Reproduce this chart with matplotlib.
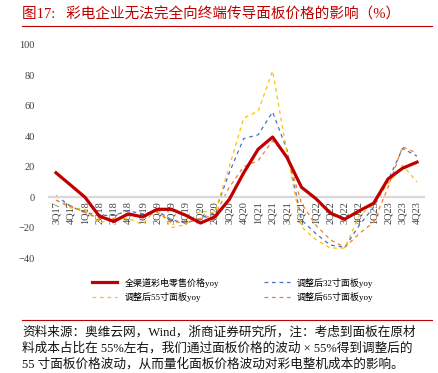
import matplotlib
matplotlib.use("Agg")
import matplotlib.pyplot as plt
from matplotlib.lines import Line2D

plt.rcParams['font.family'] = ['Liberation Serif', 'Noto Sans CJK SC']

quarters = ["3Q17", "4Q17", "1Q18", "2Q18", "3Q18", "4Q18", "1Q19", "2Q19", "3Q19",
            "4Q19", "1Q20", "2Q20", "3Q20", "4Q20", "1Q21", "2Q21", "3Q21", "4Q21",
            "1Q22", "2Q22", "3Q22", "4Q22", "1Q23", "2Q23", "3Q23", "4Q23"]

retail = [16, 8, 0, -12.5, -16, -11, -13, -8, -8, -12, -17, -13, -1.5, 16, 31.5, 39.5,
          26, 6.5, -1, -10.5, -14.5, -9, -4, 12, 19, 23]
panel32 = [1, -6, -10, -12, -12, -9, -11, -9, -15, -17, -14, -10, 16, 38.5, 41, 56,
           31, -15, -24, -31.5, -33, -18.5, -6.5, 11, 32, 27]
panel55 = [-2, -7, -8, -17, -14, -14, -18, -7, -20, -18, -9, -10.5, 20, 52, 56.5, 83,
           29, -19.5, -28, -33.5, -33.5, -12, -5, 9, 21, 10]
panel65 = [-2, -6, -10, -14, -14, -12, -13, -10, -16, -17, -14, -12, 6.5, 20, 24, 37,
           27.5, -4, -18.5, -28, -33, -24, -16.5, 6.5, 33, 29]

labels = ["全渠道彩电零售价格yoy", "调整后32寸面板yoy", "调整后55寸面板yoy", "调整后65寸面板yoy"]
title = "图17:   彩电企业无法完全向终端传导面板价格的影响（%）"
note = ["资料来源：奥维云网，Wind，浙商证券研究所，注：考虑到面板在原材",
        "料成本占比在 55%左右，我们通过面板价格的波动 × 55%得到调整后的",
        "55 寸面板价格波动，从而量化面板价格波动对彩电整机成本的影响。"]

red = "#c00000"
fig = plt.figure(figsize=(4.39, 3.73), dpi=100)
ax = fig.add_axes([48.8 / 439, 1 - 258 / 373, 375.4 / 439, 213 / 373])

x = range(len(quarters))
dash = (0, (3, 3))
l32, = ax.plot(x, panel32, color="#4472c4", lw=0.9, ls=dash, zorder=2)
l55, = ax.plot(x, panel55, color="#ffc000", lw=0.9, ls=dash, zorder=2)
l65, = ax.plot(x, panel65, color="#ed7d31", lw=0.9, ls=dash, zorder=2)
lr, = ax.plot(x, retail, color=red, lw=2.3, zorder=3)

ax.set_xlim(-0.5, 25.5)
ax.set_ylim(-40, 100)
ax.set_yticks(range(-40, 101, 20))
for s in ["top", "right", "left"]:
    ax.spines[s].set_visible(False)
ax.spines["bottom"].set_position(("data", 0))
ax.spines["bottom"].set_color("#d9d9d9")
ax.spines["bottom"].set_linewidth(1.6)
ax.set_xticks(list(x))
ax.set_xticklabels(quarters)
ax.tick_params(axis="both", length=0, labelsize=7.5, labelcolor="#404040")
ax.tick_params(axis="x", labelrotation=90, pad=3)
ax.tick_params(axis="y", pad=10)

# column-major fill: first column retail/55, second column 32/65
fig.legend([lr, l55, l32, l65], [labels[0], labels[2], labels[1], labels[3]],
           loc="center", bbox_to_anchor=(0.53, 1 - 290 / 373),
           ncol=2, frameon=False, fontsize=6.5, handlelength=2.8,
           columnspacing=5.0, labelspacing=0.55, handletextpad=0.8)

fig.text(22 / 439, 1 - 14 / 373, title, color=red, fontsize=10.5, va="center")
fig.add_artist(Line2D([22 / 439, 432 / 439], [1 - 26 / 373] * 2, color=red, lw=0.8))
fig.add_artist(Line2D([22 / 439, 432 / 439], [1 - 320 / 373] * 2, color=red, lw=0.8))
for i, line in enumerate(note):
    fig.text(22 / 439, 1 - (332 + i * 16) / 373, line, fontsize=9.1, va="center",
             color="#111111")

fig.savefig("out.png", dpi=100)
